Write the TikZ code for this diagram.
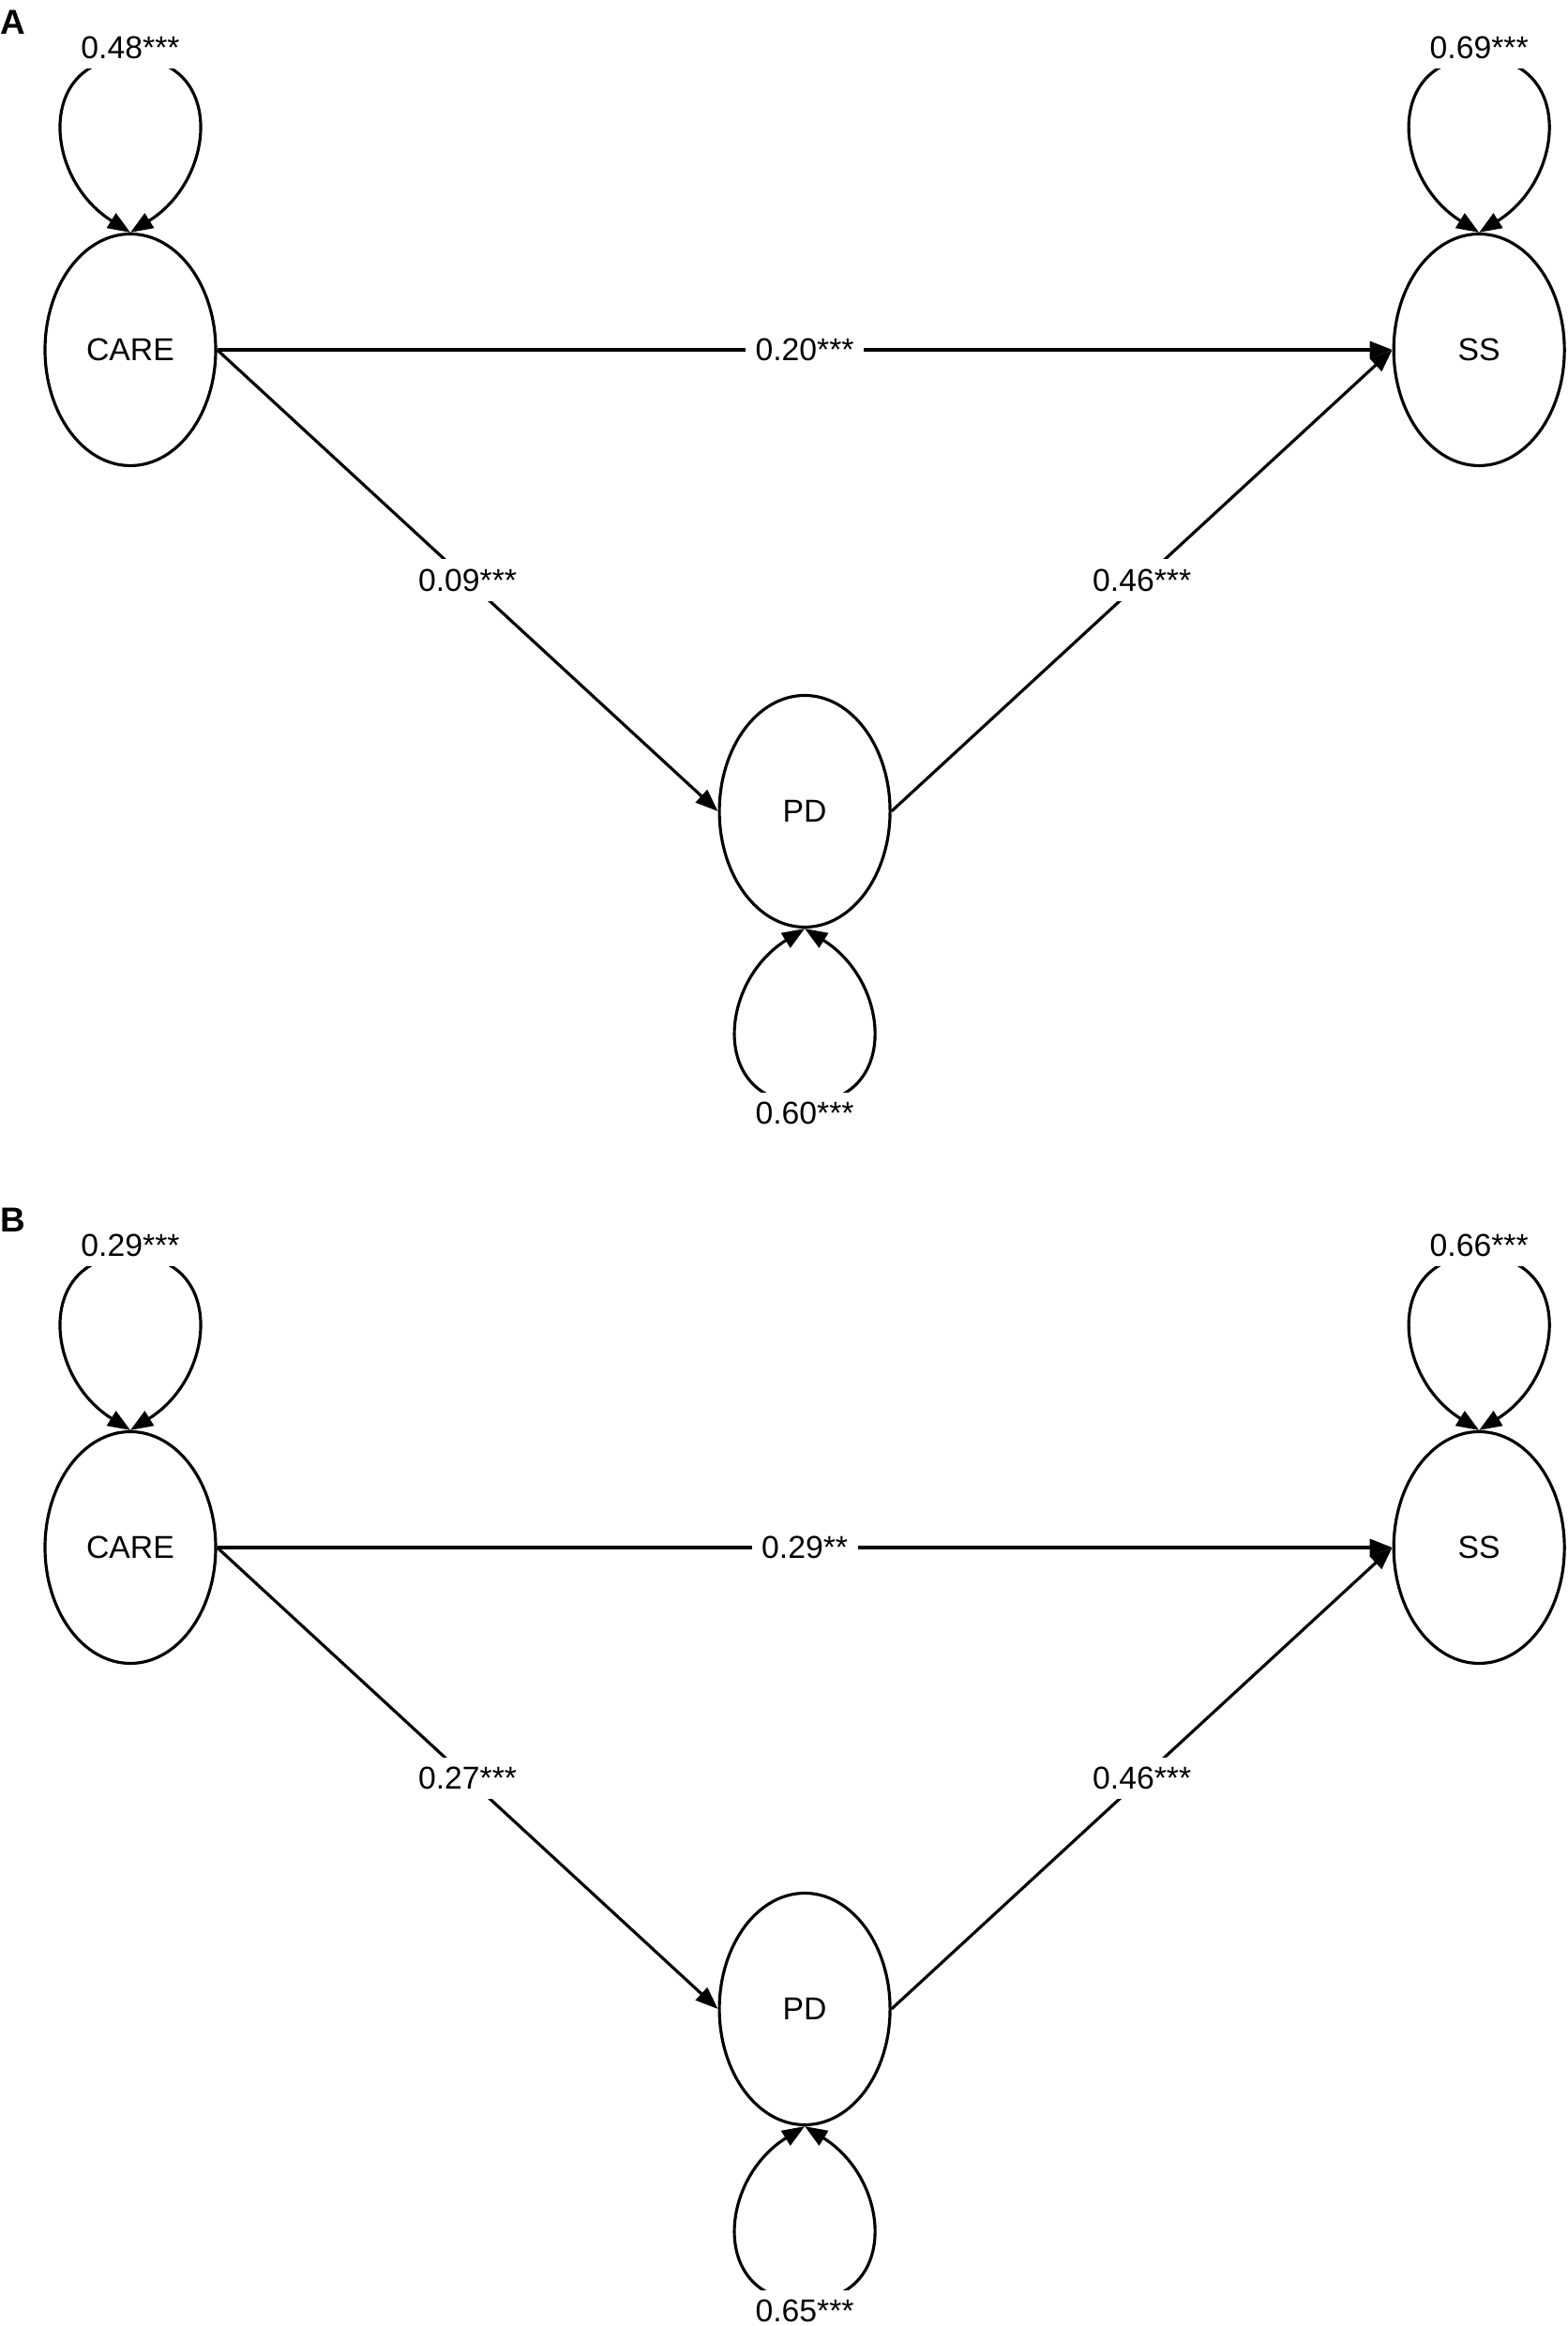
\documentclass[tikz,border=0pt]{standalone}
\usepackage{fontspec}
\setmainfont{Liberation Sans}
\usetikzlibrary{arrows.meta,positioning,shapes.geometric,calc}
\newcommand{\semfont}{\fontsize{9.6}{11}\selectfont}
\tikzset{
    latent/.style={draw, ellipse, line width=0.9pt, inner sep=0pt,
        minimum width=1.82cm, minimum height=2.47cm, font=\semfont},
    pathlbl/.style={fill=white, inner sep=3pt, font=\semfont},
    varlbl/.style={fill=white, inner sep=3pt, font=\semfont},
    panellbl/.style={anchor=north west, inner sep=0pt, font=\fontsize{10.5}{12}\selectfont\bfseries},
    patharrow/.style={-{Triangle[length=2.4mm, width=1.8mm]}, line width=0.9pt},
    varloop/.style={{Triangle[length=2.4mm, width=1.8mm]}-{Triangle[length=2.4mm, width=1.8mm]}, line width=0.9pt}
}

\begin{document}
\begin{tikzpicture}
\useasboundingbox (0,0) rectangle (16.72,24.80);
% panel A
\node[panellbl] (labA) at (0,24.70) {A};
\node[latent] (careA) at (1.39,21.07) {CARE};
\node[latent, right=12.53cm of careA] (ssA) {SS};
\node[latent] (pdA) at ($(careA)!0.5!(ssA)+(0,-4.92)$) {PD};
\draw[patharrow] (careA.east) -- node[pathlbl] {0.20***} (ssA.west);
\draw[patharrow] (careA.east) -- node[pathlbl] {0.09***} (pdA.west);
\draw[patharrow] (pdA.east) -- node[pathlbl] {0.46***} (ssA.west);
\draw[varloop] (careA.north) to[out=148, in=180, out distance=11mm, in distance=10mm] ++(0,1.86)
    node[varlbl, yshift=1.1mm] (vcareA) {0.48***}
    to[out=0, in=32, out distance=10mm, in distance=11mm] (careA.north);
\draw[varloop] (ssA.north) to[out=148, in=180, out distance=11mm, in distance=10mm] ++(0,1.86)
    node[varlbl, yshift=1.1mm] (vssA) {0.69***}
    to[out=0, in=32, out distance=10mm, in distance=11mm] (ssA.north);
\draw[varloop] (pdA.south) to[out=-148, in=180, out distance=11mm, in distance=10mm] ++(0,-1.86)
    node[varlbl, yshift=-1.1mm] (vpdA) {0.60***}
    to[out=0, in=-32, out distance=10mm, in distance=11mm] (pdA.south);
% panel B
\node[panellbl] (labB) at (0,11.93) {B};
\node[latent] (careB) at (1.39,8.30) {CARE};
\node[latent, right=12.53cm of careB] (ssB) {SS};
\node[latent] (pdB) at ($(careB)!0.5!(ssB)+(0,-4.92)$) {PD};
\draw[patharrow] (careB.east) -- node[pathlbl] {0.29**} (ssB.west);
\draw[patharrow] (careB.east) -- node[pathlbl] {0.27***} (pdB.west);
\draw[patharrow] (pdB.east) -- node[pathlbl] {0.46***} (ssB.west);
\draw[varloop] (careB.north) to[out=148, in=180, out distance=11mm, in distance=10mm] ++(0,1.86)
    node[varlbl, yshift=1.1mm] (vcareB) {0.29***}
    to[out=0, in=32, out distance=10mm, in distance=11mm] (careB.north);
\draw[varloop] (ssB.north) to[out=148, in=180, out distance=11mm, in distance=10mm] ++(0,1.86)
    node[varlbl, yshift=1.1mm] (vssB) {0.66***}
    to[out=0, in=32, out distance=10mm, in distance=11mm] (ssB.north);
\draw[varloop] (pdB.south) to[out=-148, in=180, out distance=11mm, in distance=10mm] ++(0,-1.86)
    node[varlbl, yshift=-1.1mm] (vpdB) {0.65***}
    to[out=0, in=-32, out distance=10mm, in distance=11mm] (pdB.south);
\end{tikzpicture}
\end{document}
